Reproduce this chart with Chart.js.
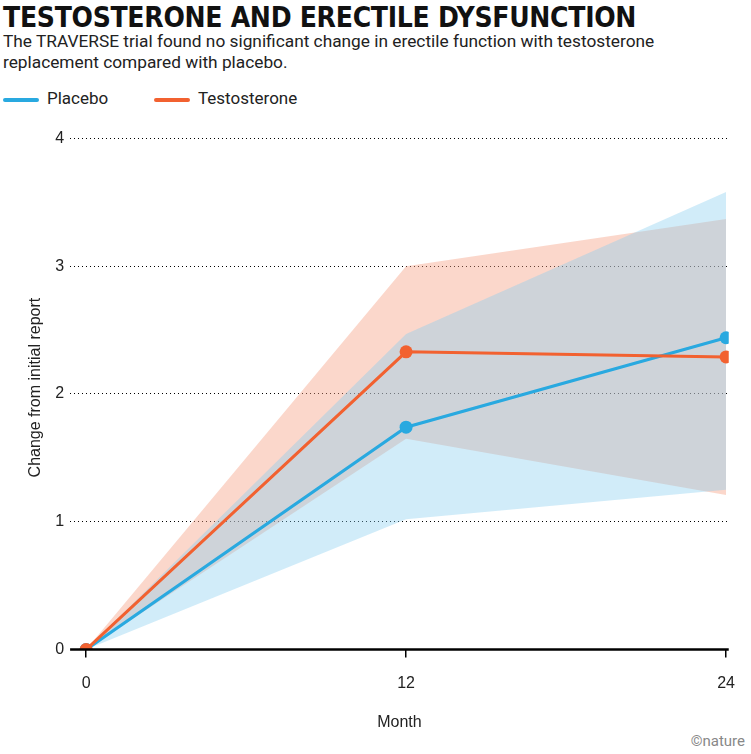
<!DOCTYPE html>
<html><head><meta charset="utf-8">
<script src="https://cdn.jsdelivr.net/npm/chart.js@4"></script>
<style>
body{margin:0;width:751px;height:754px;background:#fff;font-family:"Roboto","Liberation Sans",sans-serif;position:relative;overflow:hidden}
#t{position:absolute;left:3px;top:1px;font-family:"Liberation Sans Narrow","DejaVu Sans Condensed",sans-serif;font-weight:bold;font-size:28px;letter-spacing:-0.3px;color:#111}
#s{position:absolute;left:3px;top:31px;font-size:17.3px;line-height:21px;color:#222;width:745px}
.lg{position:absolute;top:88px;font-size:17px;color:#222}
.ln{position:absolute;top:10px;width:36px;height:4px;border-radius:2px}
#c{position:absolute;left:0;top:110px}
#n{position:absolute;right:6px;bottom:4px;font-size:15px;color:#888}
</style></head><body>
<div id="t">TESTOSTERONE AND ERECTILE DYSFUNCTION</div>
<div id="s">The TRAVERSE trial found no significant change in erectile function with testosterone replacement compared with placebo.</div>
<div class="lg" style="left:3px"><span class="ln" style="left:0;background:#29a9e0"></span><span style="margin-left:44px">Placebo</span></div>
<div class="lg" style="left:154px"><span class="ln" style="left:0;background:#f26130"></span><span style="margin-left:44px">Testosterone</span></div>
<div id="n">©nature</div>
<canvas id="c" width="751" height="644"></canvas>
<script>
const months=[0,12,24];
const placebo=[0,1.74,2.44];
const placeboLow=[0,1.02,1.25];
const placeboHigh=[0,2.47,3.58];
const testo=[0,2.33,2.29];
const testoLow=[0,1.65,1.21];
const testoHigh=[0,3.0,3.37];
const yTicks=[0,1,2,3,4];
const pts=a=>a.map((v,i)=>({x:months[i],y:v}));
const band=(d,fill,col)=>({data:pts(d),borderWidth:0,pointRadius:0,fill:fill,backgroundColor:col,order:5});
const zeroLine={id:'zero',afterDatasetsDraw(ch){const c=ch.ctx,y=ch.scales.y.getPixelForValue(0);
 c.save();c.strokeStyle='#000';c.lineWidth=2.5;c.beginPath();c.moveTo(ch.chartArea.left,y);c.lineTo(ch.chartArea.right,y);c.stroke();c.restore();}};
new Chart(document.getElementById('c'),{type:'line',
data:{datasets:[
band(placeboLow,false,'transparent'),
band(placeboHigh,'-1','rgba(135,205,238,0.38)'),
band(testoLow,false,'transparent'),
band(testoHigh,'-1','rgba(246,160,130,0.42)'),
{data:pts(placebo),borderColor:'#29a9e0',backgroundColor:'#29a9e0',borderWidth:3,pointRadius:6.5,pointBorderWidth:0,fill:false,order:1},
{data:pts(testo),borderColor:'#f26130',backgroundColor:'#f26130',borderWidth:3,pointRadius:6.5,pointBorderWidth:0,fill:false,order:0}
]},
options:{responsive:false,animation:false,layout:{padding:{left:22,right:4,top:5,bottom:18}},
plugins:{legend:{display:false},tooltip:{enabled:false}},
scales:{
x:{type:'linear',min:-0.6,max:24.1,afterBuildTicks:a=>{a.ticks=months.map(v=>({value:v}))},
 grid:{display:true,drawOnChartArea:false,drawTicks:true,tickLength:8,color:'#000',lineWidth:1.5},border:{display:false},
 ticks:{color:'#222',font:{size:16},padding:16},
 title:{display:true,text:'Month',color:'#222',font:{size:16},padding:{top:4}}},
y:{min:0,max:4.1,afterBuildTicks:a=>{a.ticks=yTicks.map(v=>({value:v}))},
 grid:{color:c=>c.tick&&c.tick.value===0?'transparent':'#000',lineWidth:1,drawTicks:false},
 border:{display:false,dash:[1,3]},
 ticks:{color:'#222',font:{size:16},padding:6},
 title:{display:true,text:'Change from initial report',color:'#222',font:{size:16},padding:{bottom:4}}}
}},
plugins:[zeroLine]
});
</script></body></html>
